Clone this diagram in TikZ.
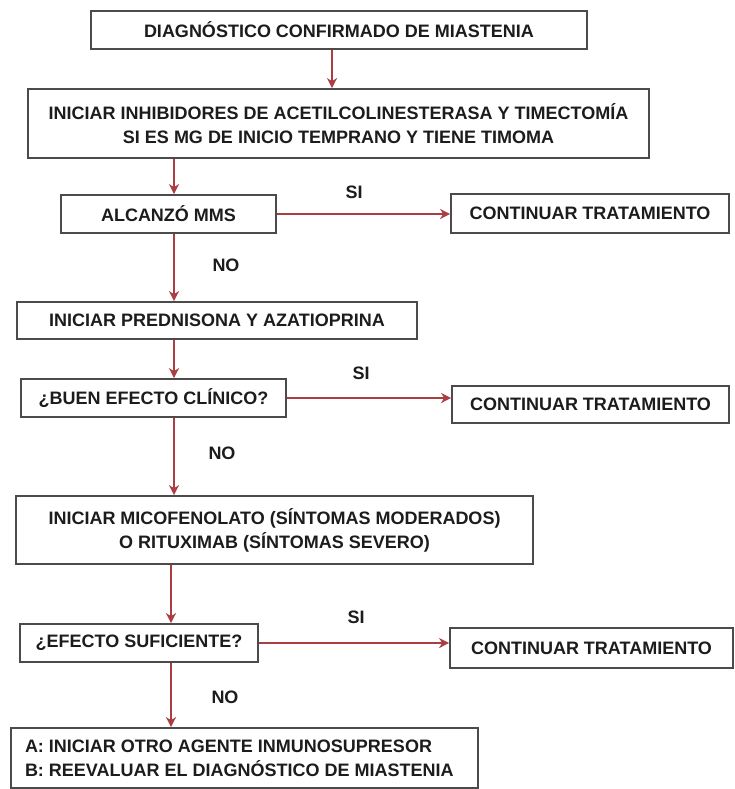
\documentclass[tikz,border=0pt]{standalone}
\usepackage{fontspec}
\setmainfont{Liberation Sans}
\usetikzlibrary{arrows.meta}
\definecolor{cajagris}{RGB}{75,75,75}
\definecolor{flecharoja}{RGB}{170,62,66}
\definecolor{texto}{RGB}{28,28,28}

\begin{document}
\begin{tikzpicture}[x=1pt, y=-1pt, >={Stealth[length=10pt, width=10pt, inset=3pt]},
caja/.style={draw=cajagris, line width=1.7pt, fill=white, inner sep=0, align=center, text=texto, font=\bfseries\fontsize{18}{24}\selectfont},
flecha/.style={->, draw=flecharoja, fill=flecharoja, line width=2.6pt},
etiqueta/.style={inner sep=0, text=texto, font=\bfseries\fontsize{18}{20}\selectfont}]
\useasboundingbox (0,0) rectangle (735,789);
\coordinate (colA) at (332,0);
\coordinate (colB) at (174,0);
\coordinate (colC) at (171,0);
%%%%%%%%%% CAJAS %%%%%%%%%%%
\node[caja, minimum width=496pt, minimum height=38pt] (diag) at (339,30) {DIAGNÓSTICO CONFIRMADO DE MIASTENIA};
\node[caja, minimum width=621pt, minimum height=69pt] (inhib) at (338.5,123.5) {INICIAR INHIBIDORES DE ACETILCOLINESTERASA Y TIMECTOMÍA\\SI ES MG DE INICIO TEMPRANO Y TIENE TIMOMA};
\node[caja, minimum width=215pt, minimum height=38pt] (alc) at (168.5,214) {ALCANZÓ MMS};
\node[caja, minimum width=278pt, minimum height=39pt] (cont1) at (590,213.5) {CONTINUAR TRATAMIENTO};
\node[caja, minimum width=400pt, minimum height=37pt] (pred) at (217,320.5) {INICIAR PREDNISONA Y AZATIOPRINA};
\node[caja, minimum width=265pt, minimum height=38pt] (buen) at (153.5,398) {¿BUEN EFECTO CLÍNICO?};
\node[caja, minimum width=277pt, minimum height=37pt] (cont2) at (590.5,404.5) {CONTINUAR TRATAMIENTO};
\node[caja, minimum width=517pt, minimum height=68pt] (mico) at (274.5,530) {INICIAR MICOFENOLATO (SÍNTOMAS MODERADOS)\\O RITUXIMAB (SÍNTOMAS SEVERO)};
\node[caja, minimum width=238pt, minimum height=38pt] (efect) at (139,643) {¿EFECTO SUFICIENTE?};
\node[caja, minimum width=283pt, minimum height=40pt] (cont3) at (591.5,648) {CONTINUAR TRATAMIENTO};
\node[caja, minimum width=467pt, minimum height=60pt, inner xsep=14pt, text width=439pt, align=flush left] (fin) at (244.5,758) {A: INICIAR OTRO AGENTE INMUNOSUPRESOR\\B: REEVALUAR EL DIAGNÓSTICO DE MIASTENIA};
%%%%%%%%%% FLECHAS %%%%%%%%%%%
\draw[flecha] (diag.south -| colA) -- (inhib.north -| colA);
\draw[flecha] (inhib.south -| colB) -- (alc.north -| colB);
\draw[flecha] (alc.south -| colB) -- (pred.north -| colB);
\draw[flecha] (pred.south -| colB) -- (buen.north -| colB);
\draw[flecha] (buen.south -| colB) -- (mico.north -| colB);
\draw[flecha] (mico.south -| colC) -- (efect.north -| colC);
\draw[flecha] (efect.south -| colC) -- (fin.north -| colC);
\draw[flecha] (alc.east) -- (alc.east -| cont1.west);
\draw[flecha] (buen.east) -- (buen.east -| cont2.west);
\draw[flecha] (efect.east) -- (efect.east -| cont3.west);
%%%%%%%%%% ETIQUETAS %%%%%%%%%%%
\node[etiqueta] (si1) at (354,192) {SI};
\node[etiqueta] (no1) at (226,265) {NO};
\node[etiqueta] (si2) at (361,373) {SI};
\node[etiqueta] (no2) at (222,453) {NO};
\node[etiqueta] (si3) at (356,617) {SI};
\node[etiqueta] (no3) at (225,697) {NO};
\end{tikzpicture}
\end{document}
